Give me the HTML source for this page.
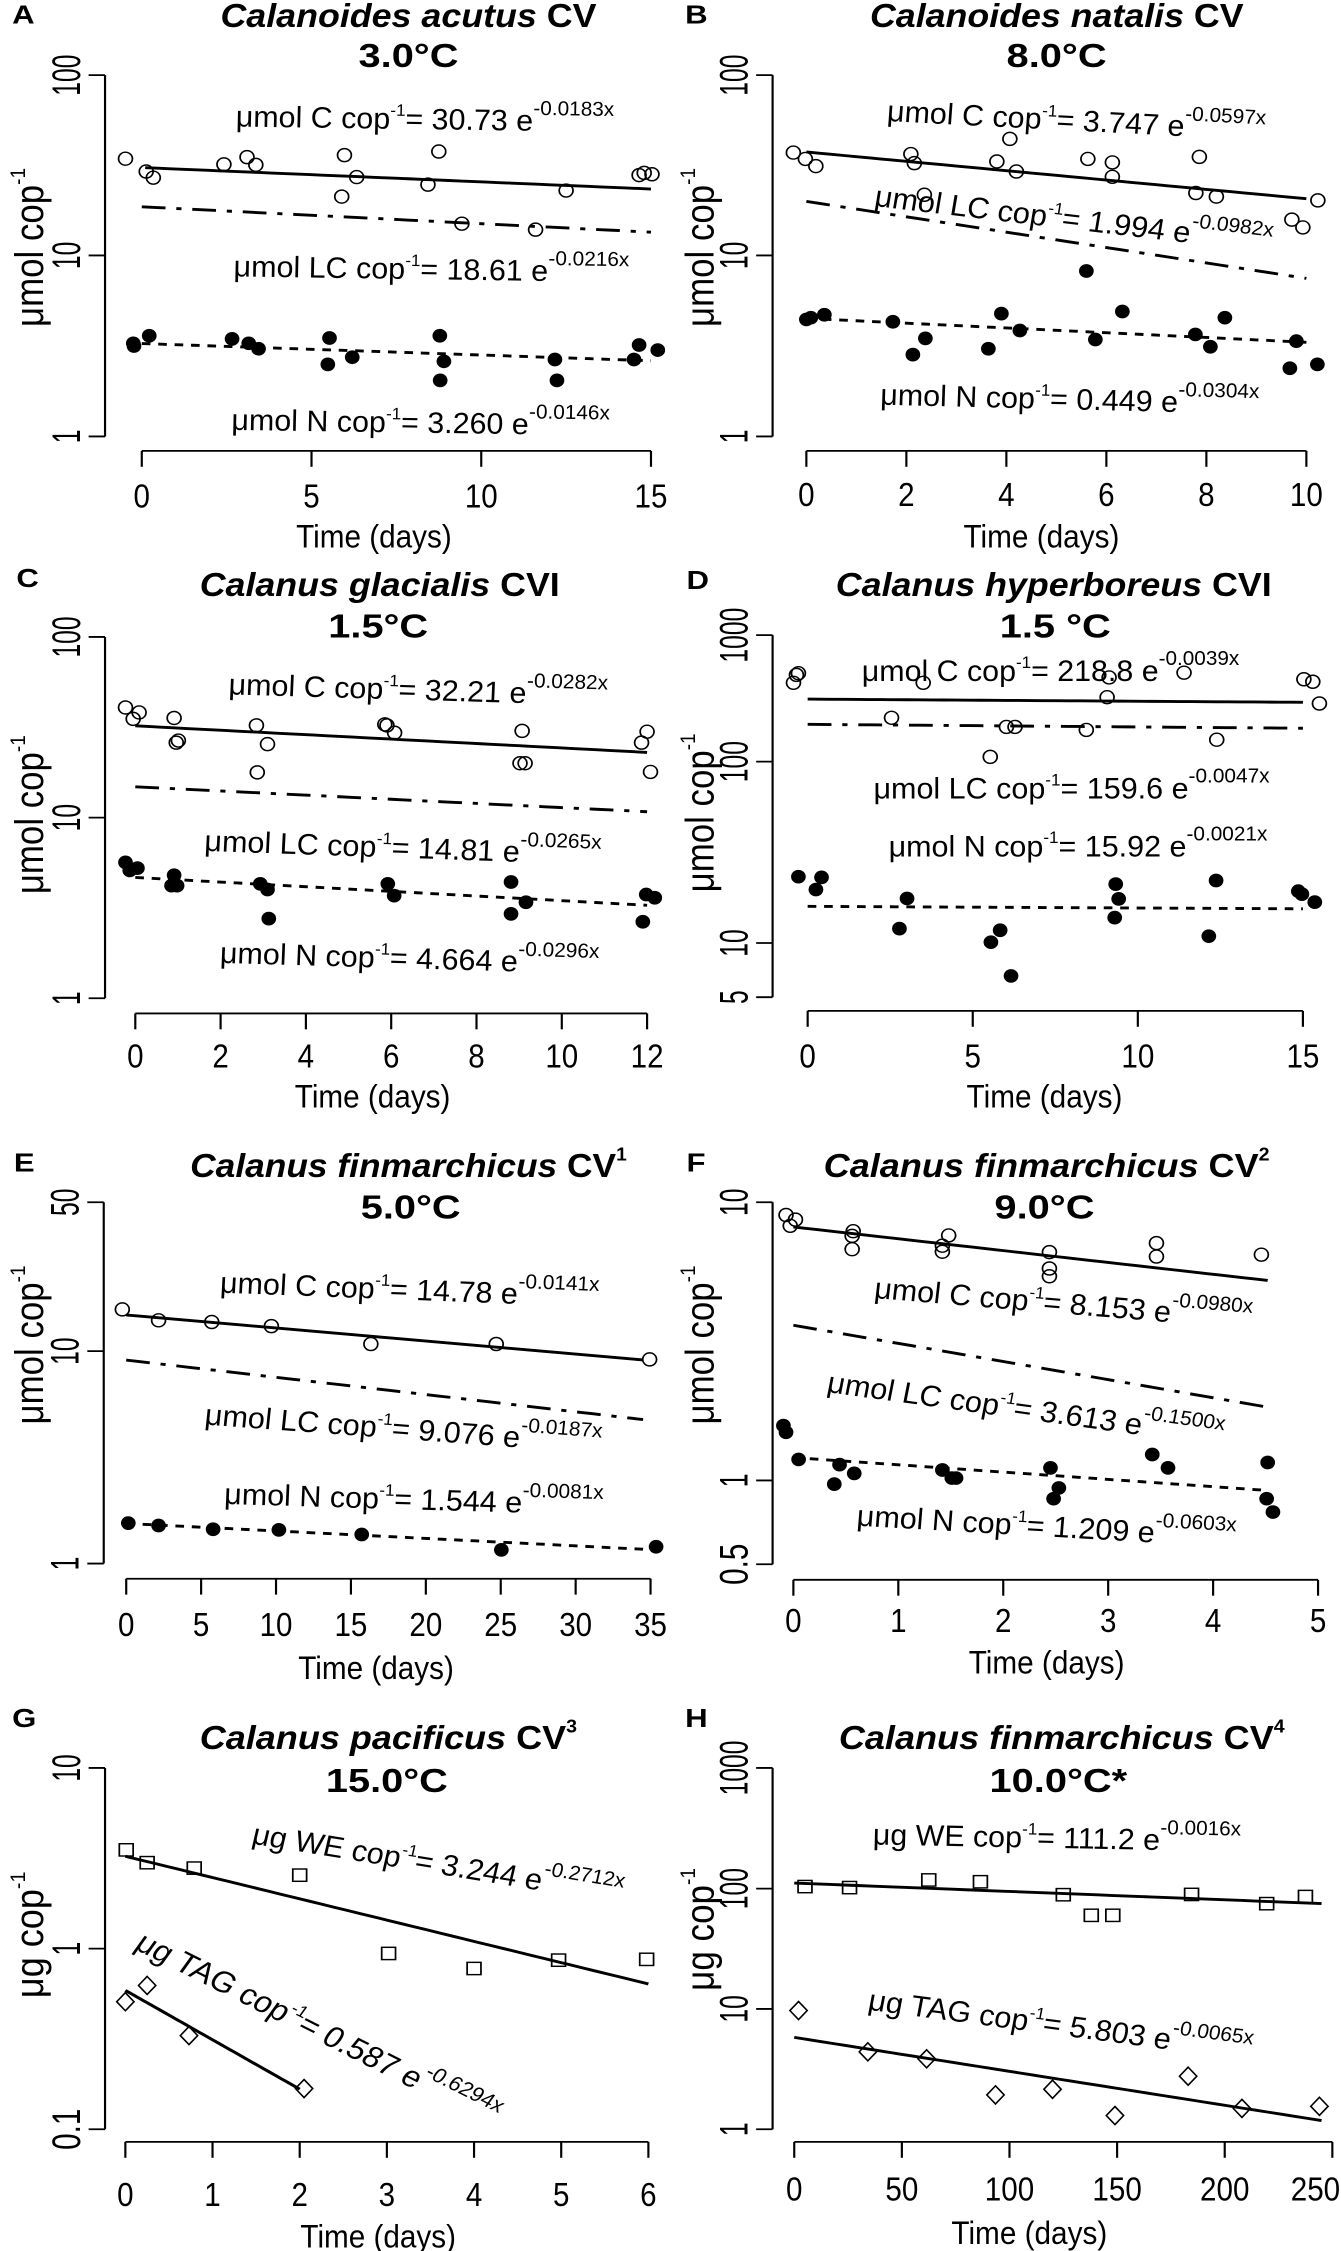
<!DOCTYPE html>
<html><head><meta charset="utf-8"><title>Copepod lipid and carbon decline over time</title>
<style>
html,body{margin:0;padding:0;background:#fff;}
#fig{position:relative;width:1341px;height:2251px;overflow:hidden;background:#fff;}
svg{position:absolute;overflow:visible;}
.nar{font-family:"Liberation Sans Narrow","Liberation Sans",sans-serif;}
.ttl{font-family:"Liberation Sans",sans-serif;font-weight:bold;}
</style></head>
<body>
<div id="fig"></div>
<script>
// ---------- DATA ----------
// Panel A
const aCx=[-0.48,0.13,0.34,2.42,3.1,3.36,5.97,5.89,6.33,8.43,8.75,9.43,11.6,12.5,14.65,14.8,15.03];
const aCy=[34.4,29.2,27.0,32.0,35.1,31.8,36.0,21.2,27.2,24.7,37.7,15.0,13.9,22.9,27.9,28.7,28.2];
const aNx=[-0.23,-0.25,0.22,2.66,3.15,3.44,5.53,5.48,6.2,8.78,8.9,8.79,12.17,12.23,14.5,14.65,15.2];
const aNy=[3.16,3.27,3.6,3.46,3.27,3.05,3.5,2.5,2.74,3.6,2.6,2.04,2.66,2.04,2.66,3.2,3.0];
const aFitC=[30.73,0.0183], aFitLC=[18.61,0.0216], aFitN=[3.26,0.0146];
// Panel B
const bCx=[-0.26,-0.02,0.19,2.09,2.16,2.36,4.07,3.81,4.2,5.63,6.12,6.12,7.86,7.79,8.2,10.23,9.71,9.93];
const bCy=[37.2,34.3,31.3,36.5,32.5,21.7,44.3,33.2,29.2,34.3,32.8,27.3,35.2,22.2,21.2,20.2,15.8,14.3];
const bNx=[0.0,0.09,0.36,1.73,2.13,2.38,3.64,3.9,4.27,5.6,5.78,6.32,7.78,8.08,8.37,9.8,9.67,10.22];
const bNy=[4.43,4.53,4.7,4.3,2.83,3.48,3.05,4.77,3.85,8.2,3.43,4.9,3.66,3.13,4.53,3.36,2.38,2.5];
const bFitC=[37.47,0.0597], bFitLC=[19.94,0.0982], bFitN=[4.49,0.0304];
// Panel C
const cCx=[-0.23,-0.05,0.09,0.91,0.96,1.01,2.84,3.1,2.86,5.85,5.9,6.08,9.07,9.02,9.14,11.87,12.0,12.08];
const cCy=[40.7,35.2,38.2,35.6,26.0,26.7,32.4,25.5,17.8,32.8,32.4,29.5,30.2,20.0,20.0,26.0,29.9,17.9];
const cNx=[-0.23,-0.13,0.05,0.91,0.85,0.98,2.93,3.1,3.13,5.92,6.07,8.81,8.81,9.16,11.98,12.18,11.9];
const cNy=[5.65,5.1,5.25,4.8,4.2,4.2,4.3,4.0,2.76,4.3,3.7,4.4,2.93,3.4,3.75,3.6,2.65];
const cFitC=[32.21,0.0282], cFitLC=[14.81,0.0265], cFitN=[4.664,0.0296];
// Panel D
const dCx=[-0.43,-0.34,-0.28,3.5,9.13,9.07,11.4,15.03,15.3,15.5,2.54,6.02,6.28,8.44,5.53,12.39];
const dCy=[420,485,500,420,463,323,505,448,428,288,222,188,188,178,109,149];
const dNx=[-0.28,0.25,0.42,3.01,2.78,5.55,5.83,6.16,9.33,9.42,9.3,12.37,12.15,14.86,14.97,15.36];
const dNy=[23.2,19.7,23.0,17.6,12.0,10.1,11.75,6.56,21.1,17.5,13.8,22.1,10.9,19.3,18.6,16.8];
const dFitC=[312,0.0039], dFitLC=[197,0.0047], dFitN=[15.92,0.0021];
// Panel E
const eCx=[-0.26,2.16,5.71,9.69,16.33,24.7,34.94];
const eCy=[15.7,13.95,13.7,13.1,10.8,10.8,9.14];
const eNx=[0.14,2.16,5.8,10.19,15.72,25.04,35.37];
const eNy=[1.55,1.51,1.45,1.44,1.37,1.16,1.2];
const eFitC=[14.78,0.0141], eFitLC=[9.076,0.0187], eFitN=[1.544,0.0081];
// Panel F
const fCx=[-0.07,-0.03,0.02,0.57,0.56,0.56,1.48,1.42,1.42,2.44,2.44,2.44,3.46,3.46,4.46];
const fCy=[9.0,8.23,8.66,7.87,7.57,6.78,7.6,6.98,6.64,6.62,5.78,5.42,7.13,6.38,6.48];
const fNx=[-0.095,-0.07,0.05,0.44,0.39,0.58,1.42,1.55,1.51,2.45,2.53,2.48,3.42,3.57,4.52,4.51,4.57];
const fNy=[1.575,1.49,1.19,1.14,0.97,1.06,1.09,1.02,1.02,1.11,0.94,0.86,1.24,1.11,1.16,0.86,0.77];
const fFitC=[8.153,0.098], fFitLC=[3.613,0.15], fFitN=[1.209,0.0603];
// Panel G
const gWx=[0.01,0.25,0.79,2.0,3.02,4.0,4.97,5.98];
const gWy=[3.52,2.99,2.79,2.55,0.94,0.776,0.863,0.872];
const gTx=[0,0.25,0.73,2.05];
const gTy=[0.508,0.625,0.33,0.168];
const gFitWE=[3.244,0.2712], gFitTAG=[0.587,0.6294];
// Panel H
const hWx=[5,25.7,62.5,86.5,125,138,148,184.6,219.5,237.5];
const hWy=[104,102,118,114,89,60,60,89.5,75,86];
const hTx=[2,34.2,61.5,93.5,120,149,183,208,244];
const hTy=[9.7,4.4,3.85,1.93,2.15,1.3,2.76,1.49,1.55];
const hFitWE=[111.2,0.0016], hFitTAG=[5.803,0.0065];

// ---------- LAYOUT (zoom-space units, viewBox 1550x1550 per panel) ----------
const NS='http://www.w3.org/2000/svg';
const panels=[
 {id:'A',left:0,top:0,w:670,letter:[28,65],title:['Calanoides acutus',' CV',''],t1:[510,75,870],t2:['3.0°C',945,185],
  axisX:243,anchors:[[100,208],[10,707],[1,1208]],xAxisY:1248,x0:328,x1:1506,xMin:0,xMax:15,xTicks:[0,5,10,15],xLabY:1405,timeX:865,timeY:1515,ylab:['μmol cop',685,440],
  series:[[aCx,aCy,'open'],[aNx,aNy,'filled']],
  fits:[[aFitC,0.1,15,'solid'],[aFitLC,0,15,'dashdot'],[aFitN,0,15,'dot']],
  eqs:[['μmol C cop','= 30.73 e','-0.0183x',545,350,1,875],['μmol LC cop','= 18.61 e','-0.0216x',540,765,1,915],['μmol N cop','= 3.260 e','-0.0146x',535,1190,1,875]]},
 {id:'B',left:670,top:0,w:671,letter:[35,65],title:['Calanoides natalis',' CV',''],t1:[462,75,863],t2:['8.0°C',893,185],
  axisX:237,anchors:[[100,208],[10,707],[1,1208]],xAxisY:1248,x0:315,x1:1470,xMin:0,xMax:10,xTicks:[0,2,4,6,8,10],xLabY:1400,timeX:858,timeY:1515,ylab:['μmol cop',685,440],
  series:[[bCx,bCy,'open'],[bNx,bNy,'filled']],
  fits:[[bFitC,0,10,'solid'],[bFitLC,0,10,'dashdot'],[bFitN,0,10,'dot']],
  eqs:[['μmol C cop','= 3.747 e','-0.0597x',500,335,3.5,875],['μmol LC cop','= 1.994 e','-0.0982x',470,570,8,925],['μmol N cop','= 0.449 e','-0.0304x',485,1120,1.7,875]]},
 {id:'C',left:0,top:560,w:670,letter:[38,75],title:['Calanus glacialis',' CVI',''],t1:[462,100,833],t2:['1.5°C',875,215],
  axisX:243,anchors:[[100,213],[10,713],[1,1213]],xAxisY:1255,x0:313,x1:1497,xMin:0,xMax:12,xTicks:[0,2,4,6,8,10,12],xLabY:1405,timeX:862,timeY:1515,ylab:['μmol cop',705,440],
  series:[[cCx,cCy,'open'],[cNx,cNy,'filled']],
  fits:[[cFitC,0,12,'solid'],[cFitLC,0,12,'dashdot'],[cFitN,0,12,'dot']],
  eqs:[['μmol C cop','= 32.21 e','-0.0282x',528,372,2,877],['μmol LC cop','= 14.81 e','-0.0265x',472,805,2.4,918],['μmol N cop','= 4.664 e','-0.0296x',508,1115,2,877]]},
 {id:'D',left:670,top:560,w:671,letter:[38,80],title:['Calanus hyperboreus',' CVI',''],t1:[383,100,1007],t2:['1.5 °C',890,215],
  axisX:237,anchors:[[1000,208],[100,558],[10,1060],[5,1210]],xAxisY:1248,x0:318,x1:1462,xMin:0,xMax:15,xTicks:[0,5,10,15],xLabY:1405,timeX:865,timeY:1515,ylab:['μmol cop',700,440],
  series:[[dCx,dCy,'open'],[dNx,dNy,'filled']],
  fits:[[dFitC,0,15,'solid'],[dFitLC,0,15,'dashdot'],[dFitN,0,15,'dot']],
  eqs:[['μmol C cop','= 218.8 e','-0.0039x',443,335,0,872],['μmol LC cop','= 159.6 e','-0.0047x',470,660,0,915],['μmol N cop','= 15.92 e','-0.0021x',505,820,0,875]]},
 {id:'E',left:0,top:1130,w:670,letter:[32,115],title:['Calanus finmarchicus',' CV','1'],t1:[440,130,1010],t2:['5.0°C',950,245],
  axisX:240,anchors:[[50,200],[10,612],[1,1200]],xAxisY:1242,x0:292,x1:1505,xMin:0,xMax:35,xTicks:[0,5,10,15,20,25,30,35],xLabY:1400,timeX:870,timeY:1520,ylab:['μmol cop',595,440],
  series:[[eCx,eCy,'open'],[eNx,eNy,'filled']],
  fits:[[eFitC,0,34.5,'solid'],[eFitLC,0,34.5,'dashdot'],[eFitN,0,34.5,'dot']],
  eqs:[['μmol C cop','= 14.78 e','-0.0141x',508,450,2.6,877],['μmol LC cop','= 9.076 e','-0.0187x',472,815,5,920],['μmol N cop','= 1.544 e','-0.0081x',518,1035,2,877]]},
 {id:'F',left:670,top:1130,w:671,letter:[38,115],title:['Calanus finmarchicus',' CV','2'],t1:[355,130,1030],t2:['9.0°C',865,245],
  axisX:237,anchors:[[10,200],[1,970],[0.5,1202]],xAxisY:1245,x0:285,x1:1497,xMin:0,xMax:5,xTicks:[0,1,2,3,4,5],xLabY:1390,timeX:870,timeY:1505,ylab:['μmol cop',595,440],
  series:[[fCx,fCy,'open'],[fNx,fNy,'filled']],
  fits:[[fFitC,0,4.52,'solid'],[fFitLC,0,4.52,'dashdot'],[fFitN,0,4.52,'dot']],
  eqs:[['μmol C cop','= 8.153 e','-0.0980x',470,465,5.6,875],['μmol LC cop','= 3.613 e','-0.1500x',360,725,9.3,925],['μmol N cop','= 1.209 e','-0.0603x',430,1095,3.9,877]]},
 {id:'G',left:0,top:1691,w:670,letter:[28,100],title:['Calanus pacificus',' CV','3'],t1:[462,160,873],t2:['15.0°C',895,280],
  axisX:243,anchors:[[10,213],[1,713],[0.1,1213]],xAxisY:1248,x0:290,x1:1500,xMin:0,xMax:6,xTicks:[0,1,2,3,4,5,6],xLabY:1425,timeX:875,timeY:1540,ylab:['μg cop',675,350],
  series:[[gWx,gWy,'square'],[gTx,gTy,'diamond']],
  fits:[[gFitWE,0,6,'solid'],[gFitTAG,0,2,'solid']],
  eqs:[['μg WE cop','= 3.244 e','-0.2712x',580,422,11,870],['μg TAG cop','= 0.587 e','-0.6294x',308,712,31,960]]},
 {id:'H',left:670,top:1691,w:671,letter:[35,100],title:['Calanus finmarchicus',' CV','4'],t1:[390,160,1030],t2:['10.0°C*',897,280],
  axisX:237,anchors:[[1000,213],[100,547],[10,880],[1,1213]],xAxisY:1248,x0:287,x1:1530,xMin:0,xMax:250,xTicks:[0,50,100,150,200,250],xLabY:1410,timeX:830,timeY:1530,ylab:['μg cop',660,340],
  series:[[hWx,hWy,'square'],[hTx,hTy,'diamond']],
  fits:[[hFitWE,0,245,'solid'],[hFitTAG,0,245,'solid']],
  eqs:[['μg WE cop','= 111.2 e','-0.0016x',468,425,1.3,850],['μg TAG cop','= 5.803 e','-0.0065x',455,882,9,895]]}
];

function el(tag,attrs,parent){const e=document.createElementNS(NS,tag);for(const k in attrs)e.setAttribute(k,attrs[k]);if(parent)parent.appendChild(e);return e;}

function makeY(p){
  const an=p.anchors;
  return function(v){
    const lv=Math.log10(v);
    let i=0;
    for(i=0;i<an.length-2;i++){ if(lv>=Math.log10(an[i+1][0])) break; }
    const l0=Math.log10(an[i][0]),l1=Math.log10(an[i+1][0]);
    return an[i][1]+(lv-l0)/(l1-l0)*(an[i+1][1]-an[i][1]);
  };
}

const fig=document.getElementById('fig');
panels.forEach(p=>{
  const svg=el('svg',{width:p.w,height:560,viewBox:'0 0 1550 1550',preserveAspectRatio:'none'},fig);
  svg.style.left=p.left+'px';svg.style.top=p.top+'px';
  
  
  const X=v=>p.x0+(v-p.xMin)/(p.xMax-p.xMin)*(p.x1-p.x0);
  const Y=makeY(p);

  const lt=el('text',{x:p.letter[0],y:p.letter[1],class:'ttl','font-size':72},svg);
  lt.textContent=p.id;
  
  

  const t1=el('text',{x:p.t1[0],y:p.t1[1],class:'ttl','font-size':92,textLength:p.t1[2],lengthAdjust:'spacingAndGlyphs'},svg);
  
  
  const s1=el('tspan',{'font-style':'italic'},t1);s1.textContent=p.title[0];
  const s2=el('tspan',{},t1);s2.textContent=p.title[1];
  if(p.title[2]){const s3=el('tspan',{'font-size':50,dy:-45},t1);s3.textContent=p.title[2];}
  const t2=el('text',{x:p.t2[1],y:p.t2[2],class:'ttl','font-size':92,'text-anchor':'middle'},svg);
  t2.textContent=p.t2[0];
  
  

  const an=p.anchors;
  const ya=el('line',{x1:p.axisX,x2:p.axisX,y1:an[0][1],y2:an[an.length-1][1],stroke:'#000','stroke-width':5},svg);
  
  
  an.forEach(a=>{
    const tk=el('line',{x1:p.axisX-38,x2:p.axisX,y1:Y(a[0]),y2:Y(a[0]),stroke:'#000','stroke-width':5},svg);
    
    
    const s=String(a[0]);
    const tl=el('text',{class:'nar','font-size':92,'text-anchor':'middle',transform:`translate(${p.axisX-58},${Y(a[0])}) rotate(-90)`,textLength:s.length*38,lengthAdjust:'spacingAndGlyphs'},svg);
    tl.textContent=s;
    
    
  });
  const yl=el('text',{class:'nar','font-size':92,'text-anchor':'middle',transform:`translate(100,${p.ylab[1]}) rotate(-90)`,textLength:p.ylab[2],lengthAdjust:'spacingAndGlyphs'},svg);
  
  
  const yl1=el('tspan',{},yl);yl1.textContent=p.ylab[0];
  const yl2=el('tspan',{'font-size':50,dy:-42},yl);yl2.textContent='-1';

  const xa=el('line',{x1:X(p.xTicks[0]),x2:X(p.xTicks[p.xTicks.length-1]),y1:p.xAxisY,y2:p.xAxisY,stroke:'#000','stroke-width':5},svg);
  
  
  p.xTicks.forEach(t=>{
    const tk=el('line',{x1:X(t),x2:X(t),y1:p.xAxisY,y2:p.xAxisY+44,stroke:'#000','stroke-width':5},svg);
    
    
    const s=String(t);
    const half=s.length*19;
    const cx=Math.min(X(t),1548-half);
    const tl=el('text',{x:cx,y:p.xLabY,class:'nar','font-size':92,'text-anchor':'middle',textLength:s.length*38,lengthAdjust:'spacingAndGlyphs'},svg);
    tl.textContent=s;
    
    
  });
  const xl=el('text',{x:p.timeX,y:p.timeY,class:'nar','font-size':90,'text-anchor':'middle',textLength:360,lengthAdjust:'spacingAndGlyphs'},svg);
  xl.textContent='Time (days)';
  
  

  p.fits.forEach(f=>{
    const c=f[0],pts=[];
    for(let i=0;i<=40;i++){const x=f[1]+(f[2]-f[1])*i/40;pts.push(X(x).toFixed(1)+','+Y(c[0]*Math.exp(-c[1]*x)).toFixed(1));}
    const attrs={points:pts.join(' '),fill:'none',stroke:'#000','stroke-width':8};
    if(f[3]==='dashdot')attrs['stroke-dasharray']='55 25 12 25';
    if(f[3]==='dot')attrs['stroke-dasharray']='20 18';
    const pl=el('polyline',attrs,svg);
    
    
  });

  p.series.forEach(s=>{
    const xs=s[0],ys=s[1],m=s[2];
    xs.forEach((xv,i)=>{
      const cx=X(xv),cy=Y(ys[i]);let mk;
      if(m==='open')mk=el('ellipse',{cx:cx,cy:cy,rx:16,ry:18,fill:'none',stroke:'#000','stroke-width':4},svg);
      else if(m==='filled')mk=el('ellipse',{cx:cx,cy:cy,rx:17,ry:19,fill:'#000'},svg);
      else if(m==='square')mk=el('rect',{x:cx-16,y:cy-17,width:32,height:34,fill:'none',stroke:'#000','stroke-width':4},svg);
      else mk=el('polygon',{points:`${cx},${cy-25} ${cx+20},${cy} ${cx},${cy+25} ${cx-20},${cy}`,fill:'none',stroke:'#000','stroke-width':4},svg);
      
      
    });
  });

  p.eqs.forEach(q=>{
    const t=el('text',{x:q[3],y:q[4],class:'nar','font-size':82,transform:`rotate(${q[5]},${q[3]},${q[4]})`,textLength:q[6],lengthAdjust:'spacingAndGlyphs'},svg);
    
    
    const a=el('tspan',{},t);a.textContent=q[0];
    const b=el('tspan',{'font-size':46,dy:-36},t);b.textContent='-1';
    const c=el('tspan',{dy:36},t);c.textContent=q[1];
    const d=el('tspan',{'font-size':56,dy:-44},t);d.textContent=q[2];
  });
});
</script>
</body></html>
